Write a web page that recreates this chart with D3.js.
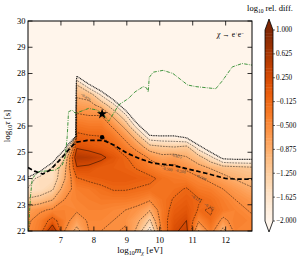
<!DOCTYPE html>
<html lang="en">
<head>
  <meta charset="utf-8">
  <title>d3 | relative difference contour</title>
  <style>
body {
  margin: 0;
  background-color: #fff;
}
text {
  font-family: "Liberation Serif", "DejaVu Serif", serif;
  fill: #000;
}
  </style>
  <script src="https://cdn.jsdelivr.net/npm/d3@7"></script>
</head>
<body>
<svg id="chart" width="307" height="262"></svg>

<script>

// grid nodes: log10 m [eV] (columns) and log10 tau [s] (rows)
var massGrid = [6.00, 6.37, 6.74, 7.11, 7.48, 7.85, 8.22, 8.59, 8.96, 9.33, 9.70, 10.07, 10.44, 10.81, 11.18, 11.55, 11.92, 12.29, 12.66, 13.03];
var tauGrid = [22.0, 22.4, 22.8, 23.2, 23.6, 24.0, 24.4, 24.8, 25.2, 25.6, 26.0, 26.4, 26.8, 27.2, 27.6, 28.0, 28.4];

// log10 relative difference, one row per tau node (bottom row first)
var relDiff = [
  [-0.5, -0.3, 0.6, -0.5, -1.0, -0.5, -0.5, -0.55, -0.45, -1.0, -1.8, -0.4, 0.2, 0.35, -0.9, -0.35, -1.0, -0.4, -0.4, -0.45],
  [-0.55, -0.35, 0.0, -0.35, -0.7, -0.45, -0.45, -0.5, -0.55, -0.8, -1.3, -0.3, 0.1, 0.25, -0.45, -0.15, -0.6, -0.35, -0.4, -0.5],
  [-0.7, -0.55, -0.45, -0.4, -0.45, -0.4, -0.4, -0.45, -0.5, -0.6, -0.85, -0.3, 0.0, 0.1, -0.15, -0.1, -0.3, -0.4, -0.5, -0.6],
  [-1.2, -1.1, -0.9, -0.5, -0.4, -0.35, -0.3, -0.3, -0.3, -0.35, -0.45, -0.25, -0.1, 0.0, -0.1, -0.2, -0.35, -0.5, -0.6, -0.7],
  [-1.6, -1.5, -1.3, -0.7, -0.35, -0.3, -0.2, -0.1, -0.1, -0.15, -0.2, -0.2, -0.2, -0.1, -0.3, -0.35, -0.5, -0.65, -0.8, -0.9],
  [-1.88, -1.45, -1.5, -0.9, -0.15, -0.05, 0.0, 0.05, 0.05, 0.0, -0.05, -0.2, -0.3, -0.35, -0.45, -0.6, -0.75, -0.9, -1.0, -1.05],
  [-2.84, -2.26, -1.55, -1.0, 0.2, 0.15, 0.0, 0.0, -0.05, -0.15, -0.3, -0.45, -0.4, -0.55, -0.75, -0.9, -1.05, -1.1, -1.15, -1.2],
  [-4, -4, -2.45, -1.28, 0.55, 0.5, 0.35, 0.1, -0.1, -0.3, -0.55, -0.75, -0.7, -0.85, -1.1, -1.52, -2.14, -2.19, -2.19, -2.19],
  [-4, -4, -20, -2.24, 0.2, 0.1, 0.0, -0.1, -0.35, -0.65, -1.1, -1.2, -1.25, -1.16, -1.83, -2.48, -4, -4, -4, -4],
  [-4, -4, -20, -20, -0.05, -0.1, -0.12, -0.3, -0.6, -1.1, -1.9, -1.95, -1.95, -2.12, -2.79, -4, -4, -4, -4, -4],
  [-4, -4, -20, -20, -0.25, -0.3, -0.3, -0.55, -1.0, -1.83, -2.86, -2.91, -2.91, -4, -4, -4, -4, -4, -4, -4],
  [-4, -4, -20, -20, -0.45, -0.5, -0.5, -0.95, -1.52, -2.79, -4, -4, -4, -4, -4, -4, -4, -4, -4, -4],
  [-4, -4, -20, -20, -0.7, -0.75, -1.0, -1.52, -2.48, -4, -4, -4, -4, -4, -4, -4, -4, -4, -4, -4],
  [-4, -4, -20, -20, -0.95, -1.04, -1.69, -2.48, -4, -4, -4, -4, -4, -4, -4, -4, -4, -4, -4, -4],
  [-4, -4, -20, -20, -1.28, -2.02, -2.65, -4, -4, -4, -4, -4, -4, -4, -4, -4, -4, -4, -4, -4],
  [-4, -4, -20, -20, -2.24, -4, -4, -4, -4, -4, -4, -4, -4, -4, -4, -4, -4, -4, -4, -4],
  [-4, -4, -20, -20, -4, -4, -4, -4, -4, -4, -4, -4, -4, -4, -4, -4, -4, -4, -4, -4]
];

// thick dashed black curve
var dashedM = [6.0, 6.2, 6.45, 6.65, 7.0, 7.25, 7.45, 7.8, 8.3, 8.6, 9.0, 9.4, 9.8, 10.4, 11.4, 12.0, 12.3, 12.8];
var dashedTau = [24.42, 24.28, 24.17, 24.3, 24.75, 25.12, 25.38, 25.45, 25.45, 25.28, 24.97, 24.75, 24.58, 24.5, 24.2, 24.0, 23.98, 23.97];

// green dash-dot curve
var greenM = [6.02, 6.05, 6.08, 6.13, 6.33, 6.83, 7.04, 7.13, 7.19, 7.23, 7.34, 7.44, 7.84, 8.09, 8.3, 8.45, 8.75, 9.05, 9.25, 9.5, 9.6, 9.65, 9.68, 9.8, 10.1, 10.4, 10.85, 11.1, 11.7, 11.9, 12.2, 12.5, 12.8];
var greenTau = [22.0, 22.8, 23.37, 24.01, 24.26, 24.32, 24.51, 24.83, 25.59, 26.54, 26.61, 26.48, 26.67, 26.61, 26.42, 26.18, 26.8, 27.05, 27.3, 27.5, 27.45, 27.3, 27.85, 28.05, 28.12, 28.0, 27.56, 27.5, 27.42, 27.72, 28.25, 28.38, 28.32];

var starPoint = [8.25, 26.46];
var dotPoint = [8.25, 25.57];

var xTicks = [7, 8, 9, 10, 11, 12];
var yTicks = [22, 23, 24, 25, 26, 27, 28, 29, 30];
var colorTicks = [1.0, 0.625, 0.25, -0.125, -0.5, -0.875, -1.25, -1.625, -2.0];
var lineLevels = [-2.0, -1.625, -1.25, -0.875, -0.5, -0.125, 0.25, 0.625, 1.0];

// inline contour labels: text, m, tau, angle
var contourLabels = [
  ['\u22120.875', 7.75, 27.1, 36],
  ['\u22120.875', 10.5, 24.86, 12],
  ['\u22120.500', 10.22, 24.36, 10],
  ['\u22120.500', 10.62, 24.28, 12],
  ['\u22120.500', 11.25, 24.05, 25],
  ['\u22120.125', 11.1, 23.25, 30],
  ['\u22120.125', 11.5, 22.93, 30]
];

var svg = d3.select('#chart');
var plotL = 28, plotR = 252, plotT = 21, plotB = 231;

var x = d3.scaleLinear().domain([6, 12.8]).range([plotL, plotR]);
var y = d3.scaleLinear().domain([22, 30]).range([plotB, plotT]);
var color = function(v) {
  return d3.interpolateOranges(Math.max(0, Math.min(1, (v + 2) / 3)));
};
var fmt = function(v) { return (v < 0 ? '\u2212' : '') + d3.format('.3f')(Math.abs(v)); };

svg.append('clipPath').attr('id', 'clip')
  .append('rect')
  .attr('x', plotL).attr('y', plotT)
  .attr('width', plotR - plotL).attr('height', plotB - plotT);

// background = under colour
svg.append('rect')
  .attr('x', plotL).attr('y', plotT)
  .attr('width', plotR - plotL).attr('height', plotB - plotT)
  .attr('fill', color(-2));

// contours
var nx = massGrid.length, ny = tauGrid.length;
var dm = massGrid[1] - massGrid[0], dt = tauGrid[1] - tauGrid[0];
var values = [];
relDiff.forEach(function(row) { row.forEach(function(v) { values.push(v); }); });

var gridPath = d3.geoPath(d3.geoTransform({
  point: function(gx, gy) {
    this.stream.point(x(massGrid[0] + (gx - 0.5) * dm), y(tauGrid[0] + (gy - 0.5) * dt));
  }
}));

var fillLevels = d3.range(60).map(function(k) { return -2 + k * 0.05; });
var field = svg.append('g').attr('clip-path', 'url(#clip)');

field.selectAll('path.band')
  .data(d3.contours().size([nx, ny]).thresholds(fillLevels)(values))
  .enter().append('path')
  .attr('class', 'band')
  .attr('d', gridPath)
  .attr('fill', function(d) { return color(d.value + 0.025); });

field.selectAll('path.line')
  .data(d3.contours().size([nx, ny]).thresholds(lineLevels)(values))
  .enter().append('path')
  .attr('class', 'line')
  .attr('d', gridPath)
  .attr('fill', 'none')
  .attr('stroke', '#000')
  .attr('stroke-opacity', 0.85)
  .attr('stroke-width', function(d) { return d.value === -2 ? 1.2 : 0.55; })
  .attr('stroke-dasharray', function(d) {
    if (d.value === -2) return '1,0.7';
    return d.value < 0 ? '1.8,1' : null;
  });

field.selectAll('text.clabel')
  .data(contourLabels)
  .enter().append('text')
  .attr('class', 'clabel')
  .attr('transform', function(d) { return 'translate(' + x(d[1]) + ',' + y(d[2]) + ') rotate(' + d[3] + ')'; })
  .attr('text-anchor', 'middle')
  .attr('dy', '0.35em')
  .style('font-size', '4px')
  .style('fill', '#444')
  .text(function(d) { return d[0]; });

// curves and markers
var line = d3.line()
  .x(function(d) { return x(d[0]); })
  .y(function(d) { return y(d[1]); });

field.append('path')
  .attr('d', line(greenM.map(function(m, i) { return [m, greenTau[i]]; })))
  .attr('fill', 'none')
  .attr('stroke', '#2b8a2b')
  .attr('stroke-width', 0.9)
  .attr('stroke-dasharray', '3.5,1.2,0.8,1.2');

field.append('path')
  .attr('d', line(dashedM.map(function(m, i) { return [m, dashedTau[i]]; })))
  .attr('fill', 'none')
  .attr('stroke', '#000')
  .attr('stroke-width', 1.7)
  .attr('stroke-dasharray', '4.5,2.5');

field.append('path')
  .attr('d', d3.symbol().type(d3.symbolStar).size(34)())
  .attr('transform', 'translate(' + x(starPoint[0]) + ',' + y(starPoint[1]) + ')')
  .attr('fill', '#000');

field.append('circle')
  .attr('cx', x(dotPoint[0])).attr('cy', y(dotPoint[1]))
  .attr('r', 2.2)
  .attr('fill', '#000');

// frame and inward ticks
var tickLen = 4.5;
var axes = svg.append('g').attr('stroke', '#000').attr('stroke-width', 0.8);
xTicks.forEach(function(t) {
  axes.append('line').attr('x1', x(t)).attr('x2', x(t)).attr('y1', plotB).attr('y2', plotB - tickLen);
  axes.append('line').attr('x1', x(t)).attr('x2', x(t)).attr('y1', plotT).attr('y2', plotT + tickLen);
});
yTicks.forEach(function(t) {
  axes.append('line').attr('x1', plotL).attr('x2', plotL + tickLen).attr('y1', y(t)).attr('y2', y(t));
  axes.append('line').attr('x1', plotR).attr('x2', plotR - tickLen).attr('y1', y(t)).attr('y2', y(t));
});
svg.append('rect')
  .attr('x', plotL).attr('y', plotT)
  .attr('width', plotR - plotL).attr('height', plotB - plotT)
  .attr('fill', 'none')
  .attr('stroke', '#000')
  .attr('stroke-width', 1);

svg.selectAll('text.xt')
  .data(xTicks)
  .enter().append('text')
  .attr('class', 'xt')
  .attr('x', function(d) { return x(d); })
  .attr('y', 243)
  .attr('text-anchor', 'middle')
  .style('font-size', '8.5px')
  .text(function(d) { return d; });

svg.selectAll('text.yt')
  .data(yTicks)
  .enter().append('text')
  .attr('class', 'yt')
  .attr('x', 25.5)
  .attr('y', function(d) { return y(d); })
  .attr('dy', '0.33em')
  .attr('text-anchor', 'end')
  .style('font-size', '8.5px')
  .text(function(d) { return d; });

// axis titles
var xl = svg.append('text')
  .attr('x', 140).attr('y', 253)
  .attr('text-anchor', 'middle')
  .style('font-size', '9px');
xl.append('tspan').text('log');
xl.append('tspan').attr('dy', 2).style('font-size', '6px').text('10');
xl.append('tspan').attr('dy', -2).style('font-style', 'italic').text('m');
xl.append('tspan').attr('dy', 2).style('font-size', '6px').style('font-style', 'italic').text('\u03c7');
xl.append('tspan').attr('dy', -2).text(' [eV]');

var yl = svg.append('text')
  .attr('transform', 'translate(10,126) rotate(-90)')
  .attr('text-anchor', 'middle')
  .style('font-size', '9px');
yl.append('tspan').text('log');
yl.append('tspan').attr('dy', 2).style('font-size', '6px').text('10');
yl.append('tspan').attr('dy', -2).style('font-style', 'italic').text('\u03c4');
yl.append('tspan').text(' [s]');

var ch = svg.append('text')
  .attr('x', 244).attr('y', 37)
  .attr('text-anchor', 'end')
  .style('font-size', '7.5px');
ch.append('tspan').style('font-style', 'italic').text('\u03c7');
ch.append('tspan').text(' \u2192 e');
ch.append('tspan').attr('dy', -2.5).style('font-size', '5px').text('+');
ch.append('tspan').attr('dy', 2.5).text('e');
ch.append('tspan').attr('dy', -2.5).style('font-size', '5px').text('\u2212');

// colorbar
var cbX = 265, cbW = 8, cbTop = 30, cbBot = 221;
var cy = d3.scaleLinear().domain([-2, 1]).range([cbBot, cbTop]);
var cb = svg.append('g');
cb.selectAll('rect')
  .data(fillLevels)
  .enter().append('rect')
  .attr('x', cbX).attr('width', cbW)
  .attr('y', function(d) { return cy(d + 0.05); })
  .attr('height', function(d) { return cy(d) - cy(d + 0.05) + 0.4; })
  .attr('fill', function(d) { return color(d + 0.025); });
cb.append('path')
  .attr('d', 'M' + cbX + ',' + cbTop + 'L' + (cbX + cbW / 2) + ',' + (cbTop - 11) + 'L' + (cbX + cbW) + ',' + cbTop + 'Z')
  .attr('fill', color(1));
cb.append('path')
  .attr('d', 'M' + cbX + ',' + cbBot + 'L' + (cbX + cbW / 2) + ',' + (cbBot + 11) + 'L' + (cbX + cbW) + ',' + cbBot + 'Z')
  .attr('fill', color(-2));
cb.append('path')
  .attr('d', 'M' + cbX + ',' + cbTop + 'L' + (cbX + cbW / 2) + ',' + (cbTop - 11) + 'L' + (cbX + cbW) + ',' + cbTop +
    'L' + (cbX + cbW) + ',' + cbBot + 'L' + (cbX + cbW / 2) + ',' + (cbBot + 11) + 'L' + cbX + ',' + cbBot + 'Z')
  .attr('fill', 'none')
  .attr('stroke', '#000')
  .attr('stroke-width', 0.8);

cb.selectAll('line')
  .data(colorTicks)
  .enter().append('line')
  .attr('x1', cbX + cbW).attr('x2', cbX + cbW + 2)
  .attr('y1', function(d) { return cy(d); })
  .attr('y2', function(d) { return cy(d); })
  .attr('stroke', '#000')
  .attr('stroke-width', 0.6);

cb.selectAll('text')
  .data(colorTicks)
  .enter().append('text')
  .attr('x', 276)
  .attr('y', function(d) { return cy(d); })
  .attr('dy', '0.33em')
  .style('font-size', '7.2px')
  .text(function(d) { return fmt(d); });

var ct = svg.append('text')
  .attr('x', 270).attr('y', 11)
  .attr('text-anchor', 'middle')
  .style('font-size', '8.5px');
ct.append('tspan').text('log');
ct.append('tspan').attr('dy', 2).style('font-size', '5.5px').text('10');
ct.append('tspan').attr('dy', -2).text(' rel. diff.');

</script>

</body>
</html>
